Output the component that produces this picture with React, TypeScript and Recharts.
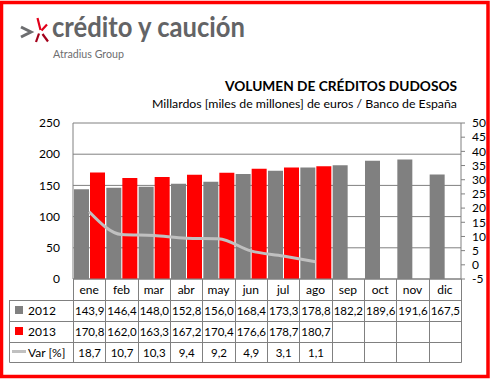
import React from 'react';
import { ComposedChart, Bar, Line, XAxis, YAxis, CartesianGrid } from 'recharts';

const MONTHS = ['ene', 'feb', 'mar', 'abr', 'may', 'jun', 'jul', 'ago', 'sep', 'oct', 'nov', 'dic'];
const VOL_2012 = [143.9, 146.4, 148.0, 152.8, 156.0, 168.4, 173.3, 178.8, 182.2, 189.6, 191.6, 167.5];
const VOL_2013 = [170.8, 162.0, 163.3, 167.2, 170.4, 176.6, 178.7, 180.7];
const VAR_PCT = [18.7, 10.7, 10.3, 9.4, 9.2, 4.9, 3.1, 1.1];
const LEFT_TICKS = [0, 50, 100, 150, 200, 250];
const RIGHT_TICKS = [-5, 0, 5, 10, 15, 20, 25, 30, 35, 40, 45, 50];
const SERIES_LABELS = ['2012', '2013', 'Var [%]'];
const TITLE = 'VOLUMEN DE CRÉDITOS DUDOSOS';
const SUBTITLE = 'Millardos [miles de millones] de euros / Banco de España';

const data = MONTHS.map((m, i) => ({
  m,
  a: VOL_2012[i],
  b: i < VOL_2013.length ? VOL_2013[i] : null,
  v: i < VAR_PCT.length ? VAR_PCT[i] : null,
}));

const fmt = (v: number | null | undefined) => (v == null ? '' : v.toFixed(1).replace('.', ','));

const FONT = 'Lato, "Open Sans", sans-serif';
const W = 490;
const H = 381;
const PLOT_L = 73;
const PLOT_R = 461;
const PLOT_T = 123;
const PLOT_B = 279;
const COL_W = (PLOT_R - PLOT_L) / 12;
const TABLE_L = 9.5;
const ROWS_Y = [300, 321, 342, 362];
const GRID = '#808080';

const MonthTick = (props: any) => {
  const { x, y, payload } = props;
  return (
    <text x={x} y={y} textAnchor="middle" fontFamily={FONT} fontSize={12} fill="#000">
      {payload.value}
    </text>
  );
};

function Table() {
  const rows = [
    VOL_2012.map(fmt),
    MONTHS.map((_, i) => fmt(i < VOL_2013.length ? VOL_2013[i] : null)),
    MONTHS.map((_, i) => fmt(i < VAR_PCT.length ? VAR_PCT[i] : null)),
  ];
  const lines: React.ReactNode[] = [];
  ROWS_Y.forEach((y, k) => {
    lines.push(<line key={'h' + k} x1={TABLE_L} x2={PLOT_R + 0.5} y1={y + 0.5} y2={y + 0.5} stroke={GRID} strokeWidth={1} />);
  });
  lines.push(<line key="vl" x1={TABLE_L} x2={TABLE_L} y1={ROWS_Y[0]} y2={ROWS_Y[3] + 0.5} stroke={GRID} strokeWidth={1} />);
  for (let i = 0; i <= 12; i++) {
    const x = Math.round(PLOT_L + i * COL_W) + 0.5;
    lines.push(<line key={'v' + i} x1={x} x2={x} y1={PLOT_B} y2={ROWS_Y[3] + 0.5} stroke={GRID} strokeWidth={1} />);
  }
  return (
    <g>
      {lines}
      <rect x={15} y={306} width={8} height={8} fill="#808080" />
      <rect x={15} y={327} width={8} height={8} fill="#ff0000" />
      <line x1={12} x2={26} y1={351.5} y2={351.5} stroke="#c0c0c0" strokeWidth={3} />
      {SERIES_LABELS.map((lab, r) => (
        <text key={'l' + r} x={28} y={(ROWS_Y[r] + ROWS_Y[r + 1]) / 2 + 4.5} fontFamily={FONT} fontSize={12} fill="#000">
          {lab}
        </text>
      ))}
      {rows.map((row, r) =>
        row.map((val, i) => (
          <text
            key={r + '-' + i}
            x={PLOT_L + (i + 0.5) * COL_W + 0.5}
            y={(ROWS_Y[r] + ROWS_Y[r + 1]) / 2 + 4.5}
            textAnchor="middle"
            fontFamily={FONT}
            fontSize={11.5}
            fill="#000"
          >
            {val}
          </text>
        ))
      )}
    </g>
  );
}

function Overlay() {
  return (
    <svg width={W} height={H} style={{ position: 'absolute', left: 0, top: 0, pointerEvents: 'none' }}>
      <rect x={1.5} y={2.5} width={486.5} height={374} fill="none" stroke="#ff0000" strokeWidth={3.5} />
      {/* logo */}
      <polyline points="21,27 31,32 21,37" fill="none" stroke="#6d6e70" strokeWidth={3} />
      <line x1={37.5} y1={18} x2={40.5} y2={30} stroke="#e2001a" strokeWidth={2.2} />
      <line x1={47} y1={24.5} x2={41.5} y2={30.5} stroke="#e2001a" strokeWidth={2.2} />
      <line x1={39} y1={33.5} x2={36} y2={42} stroke="#a3001a" strokeWidth={2.2} />
      <line x1={42.5} y1={34} x2={48} y2={41.5} stroke="#a3001a" strokeWidth={2.2} />
      <text x={52} y={37} fontFamily={FONT} fontSize={28} fontWeight={700} fill="#636466" textLength={193} lengthAdjust="spacingAndGlyphs">
        crédito y caución
      </text>
      <text x={53} y={57.5} fontFamily={FONT} fontSize={10.5} fill="#6d6e70" textLength={71} lengthAdjust="spacingAndGlyphs">
        Atradius Group
      </text>
      <text x={225} y={90.5} fontFamily={FONT} fontSize={12.5} fontWeight={700} fill="#000" textLength={232} lengthAdjust="spacingAndGlyphs">
        {TITLE}
      </text>
      <text x={152} y={108} fontFamily={FONT} fontSize={11.5} fill="#000" textLength={305} lengthAdjust="spacingAndGlyphs">
        {SUBTITLE}
      </text>
      <Table />
    </svg>
  );
}

export default function App() {
  return (
    <div style={{ position: 'absolute', left: 0, top: 0, width: W, height: H, background: '#fff' }}>
      <div style={{ position: 'absolute', left: 0, top: 0 }}>
        <ComposedChart
          width={W}
          height={H}
          data={data}
          margin={{ top: PLOT_T, right: 0, bottom: H - PLOT_B - 21, left: 0 }}
          barGap={1}
          barCategoryGap={0}
        >
          <CartesianGrid vertical={false} horizontal stroke={GRID} strokeWidth={1} />
          <XAxis
            dataKey="m"
            height={21}
            axisLine={{ stroke: GRID }}
            tickLine={false}
            tickSize={0}
            tickMargin={14.5}
            tick={<MonthTick />}
            interval={0}
          />
          <YAxis
            width={PLOT_L}
            domain={[0, 250]}
            ticks={LEFT_TICKS}
            interval={0}
            axisLine={{ stroke: GRID }}
            tickLine={false}
            tickSize={0}
            tickMargin={13}
            tick={{ fontFamily: FONT, fontSize: 12, fill: '#000' }}
          />
          <YAxis
            yAxisId="r"
            orientation="right"
            width={W - PLOT_R}
            domain={[-5, 50]}
            ticks={RIGHT_TICKS}
            interval={0}
            axisLine={{ stroke: GRID }}
            tickLine={{ stroke: GRID }}
            tickSize={4}
            tickMargin={7}
            tick={{ fontFamily: FONT, fontSize: 12, fill: '#000', textAnchor: 'start' }}
          />
          <Bar dataKey="a" fill="#808080" barSize={15} isAnimationActive={false} />
          <Bar dataKey="b" fill="#ff0000" barSize={15} isAnimationActive={false} />
          <Line
            yAxisId="r"
            dataKey="v"
            type="monotone"
            stroke="#c0c0c0"
            strokeWidth={3}
            dot={false}
            activeDot={false}
            isAnimationActive={false}
          />
        </ComposedChart>
      </div>
      <Overlay />
    </div>
  );
}
